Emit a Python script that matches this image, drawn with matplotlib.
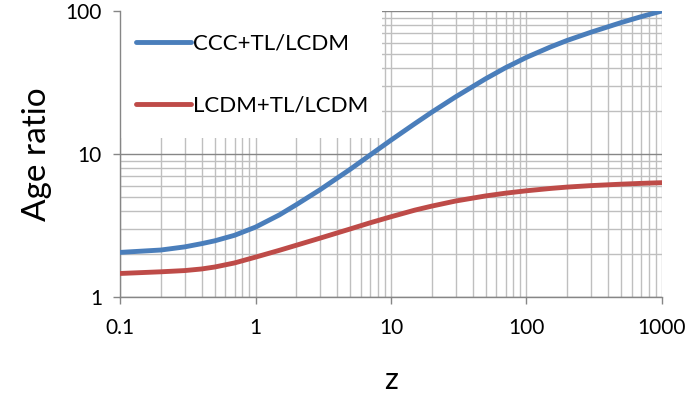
#Age ratio of the TL models relative to LCDM, log-log plot.

import matplotlib.pyplot as plt
from matplotlib.patches import Rectangle
from matplotlib.ticker import FixedLocator, LogLocator, NullFormatter


z_values = [0.1, 0.2, 0.3, 0.4, 0.5, 0.7, 1, 1.5, 2, 3, 5, 7, 10, 15, 20, 30, 50, 70,
            100, 150, 200, 300, 500, 700, 1000]
ccc_ratio = [2.05, 2.13, 2.24, 2.36, 2.47, 2.7, 3.08, 3.75, 4.42, 5.63, 7.82, 9.82, 12.5, 16.3,
             19.6, 25.1, 33.6, 40.1, 47.4, 56, 62.3, 71.1, 83, 91.2, 100]
lcdm_ratio = [1.46, 1.50, 1.53, 1.57, 1.62, 1.73, 1.90, 2.12, 2.30, 2.58, 2.99, 3.30, 3.64, 4.05,
              4.32, 4.69, 5.09, 5.32, 5.53, 5.74, 5.87, 6.01, 6.15, 6.23, 6.30]

series_labels = ["CCC+TL/LCDM", "LCDM+TL/LCDM"]
x_ticks = [0.1, 1, 10, 100, 1000]
x_tick_labels = ["0.1", "1", "10", "100", "1000"]
y_ticks = [1, 10, 100]
y_tick_labels = ["1", "10", "100"]

plt.rcParams["font.family"] = ["Lato", "DejaVu Sans"]

fig = plt.figure(figsize=(6.89, 4.01), dpi=100)
ax = fig.add_axes([0.1742, 0.2594, 0.7866, 0.7132])

ax.set_xscale("log")
ax.set_yscale("log")
ax.set_xlim(0.1, 1000)
ax.set_ylim(1, 100)

# grid: all light gray, horizontal major lines darker
ax.xaxis.set_minor_locator(LogLocator(base=10, subs=range(2, 10)))
ax.yaxis.set_minor_locator(LogLocator(base=10, subs=range(2, 10)))
ax.xaxis.set_minor_formatter(NullFormatter())
ax.yaxis.set_minor_formatter(NullFormatter())
ax.grid(which="minor", axis="both", color="#BFBFBF", linewidth=1.0)
ax.grid(which="major", axis="x", color="#BFBFBF", linewidth=1.0)
ax.grid(which="major", axis="y", color="#868686", linewidth=1.0)
ax.set_axisbelow(True)

ax.xaxis.set_major_locator(FixedLocator(x_ticks))
ax.yaxis.set_major_locator(FixedLocator(y_ticks))
ax.set_xticklabels(x_tick_labels)
ax.set_yticklabels(y_tick_labels)
ax.tick_params(which="major", length=5, width=1, color="#868686", labelsize=15)
ax.tick_params(axis="x", which="major", pad=10)
ax.tick_params(axis="y", which="major", pad=8)
ax.tick_params(which="minor", length=0)

for side in ["top", "right"]:
    ax.spines[side].set_visible(False)
for side in ["left", "bottom"]:
    ax.spines[side].set_color("#868686")
    ax.spines[side].set_linewidth(1.0)

# white box behind legend, covering the grid
ax.add_patch(Rectangle((0, 0.5561), 0.4834, 0.4439, transform=ax.transAxes,
                       facecolor="white", edgecolor="none", zorder=1.5))

ax.plot(z_values, ccc_ratio, color="#4A7EBB", linewidth=3.5, label=series_labels[0],
        solid_capstyle="round", solid_joinstyle="round", zorder=3)
ax.plot(z_values, lcdm_ratio, color="#BE4B48", linewidth=3.5, label=series_labels[1],
        solid_capstyle="round", solid_joinstyle="round", zorder=3)

ax.legend(loc="upper left", bbox_to_anchor=(0.0, 0.975), frameon=False, fontsize=16,
          handlelength=2.5, handletextpad=0.1, labelspacing=1.9, borderpad=0.7,
          borderaxespad=0.0)

ax.set_xlabel("z", fontsize=22, labelpad=20)
ax.set_ylabel("Age ratio", fontsize=24, labelpad=10)

fig.savefig("out.png", dpi=100)
plt.close(fig)
